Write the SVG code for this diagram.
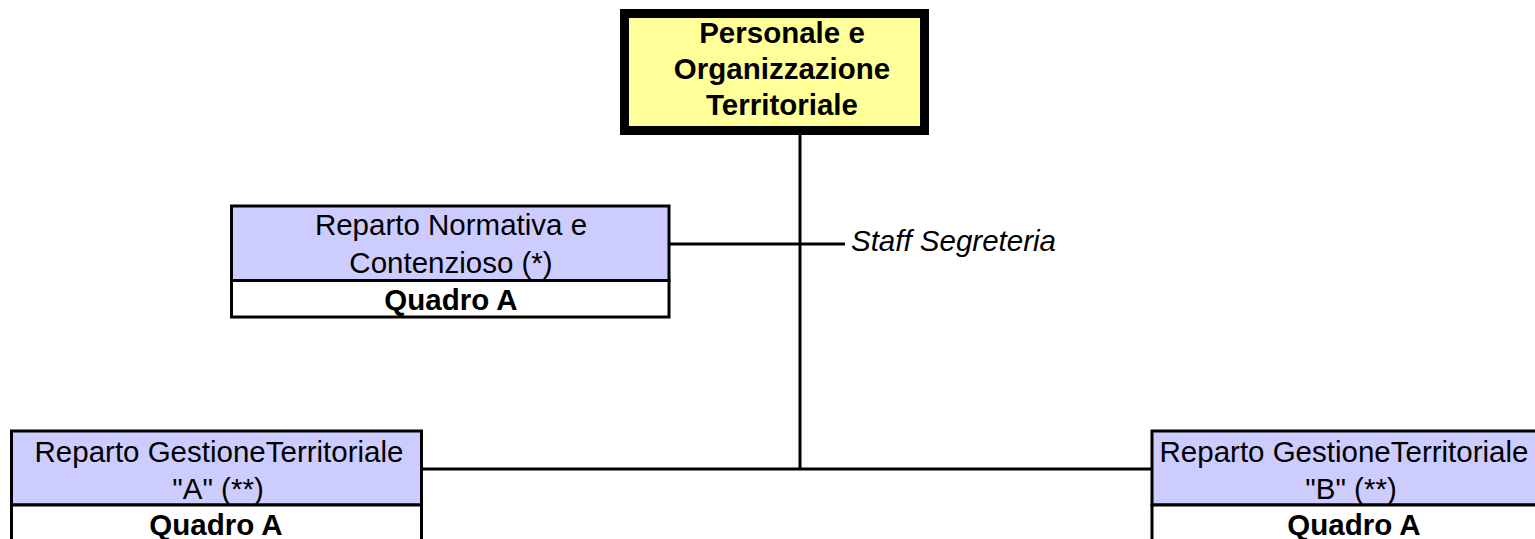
<svg xmlns="http://www.w3.org/2000/svg" width="1535" height="539" viewBox="0 0 1535 539">
<style>
.t{font-family:"Liberation Sans",Arial,Helvetica,sans-serif;font-size:29.5px;fill:#000;text-anchor:middle}
.b{font-weight:bold}
.i{font-style:italic;text-anchor:start}
.box{stroke:#000;stroke-width:3}
.p{fill:#CCCCFF}
.w{fill:#FFFFFF}
.c{stroke:#000;stroke-width:3;fill:none}
</style>
<rect width="1535" height="539" fill="#fff"/>
<g id="connectors">
<line class="c" x1="800" y1="133" x2="800" y2="469"/>
<line class="c" x1="669" y1="244" x2="845" y2="244"/>
<line class="c" x1="421.5" y1="469" x2="1152" y2="469"/>
</g>
<g id="node-top">
<rect x="624.5" y="13.5" width="300" height="117" fill="#FFFF99" stroke="#000" stroke-width="9"/>
<text class="t b" x="782" y="43">Personale e</text>
<text class="t b" x="782" y="79">Organizzazione</text>
<text class="t b" x="782" y="115">Territoriale</text>
</g>
<g id="node-normativa">
<rect class="box p" x="231.5" y="206" width="437.5" height="74.5"/>
<rect class="box w" x="231.5" y="280.5" width="437.5" height="36.5"/>
<text class="t" x="451" y="235">Reparto Normativa e</text>
<text class="t" x="451" y="273">Contenzioso (*)</text>
<text class="t b" x="451" y="310">Quadro A</text>
</g>
<g id="node-staff">
<text class="t i" x="851" y="251">Staff Segreteria</text>
</g>
<g id="node-gest-a">
<rect class="box p" x="11.5" y="431" width="410" height="74"/>
<rect class="box w" x="11.5" y="505" width="410" height="40"/>
<text class="t" x="219" y="462">Reparto GestioneTerritoriale</text>
<text class="t" x="218" y="499">"A" (**)</text>
<text class="t b" x="216" y="535">Quadro A</text>
</g>
<g id="node-gest-b">
<rect class="box p" x="1152" y="431" width="400" height="74"/>
<rect class="box w" x="1152" y="505" width="400" height="40"/>
<text class="t" x="1344" y="462">Reparto GestioneTerritoriale</text>
<text class="t" x="1351" y="499">"B" (**)</text>
<text class="t b" x="1354" y="535">Quadro A</text>
</g>
</svg>
